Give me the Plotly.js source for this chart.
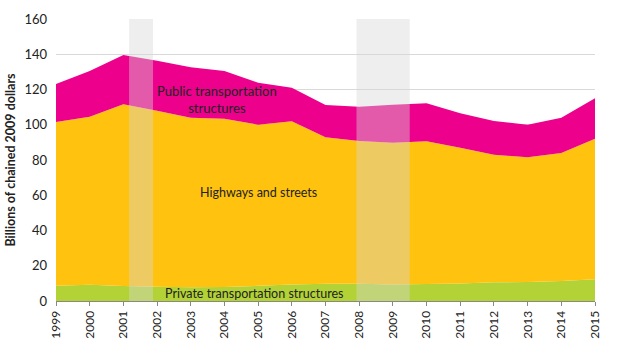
<!DOCTYPE html>
<html>
<head>
<meta charset="utf-8">
<script src="https://cdn.plot.ly/plotly-3.0.1.min.js"></script>
<style>html,body{margin:0;padding:0;background:#fff;}#chart{width:618px;height:352px;}</style>
</head>
<body>
<div id="chart"></div>
<script>
const years = [1999,2000,2001,2002,2003,2004,2005,2006,2007,2008,2009,2010,2011,2012,2013,2014,2015];
const privateStructures = [8.7,9.2,8.5,8.1,7.8,7.9,8.6,9.4,9.8,9.8,9.3,9.6,10.0,10.6,10.8,11.3,12.3];
const highwaysStreets = [92.9,95.4,103.1,99.9,96.2,95.5,91.4,92.6,83.1,81.0,80.5,81.0,77.0,72.4,70.7,72.7,79.8];
const publicStructures = [21.5,25.9,28.0,28.3,28.6,27.1,23.9,19.0,18.3,19.4,21.6,21.6,19.5,19.1,18.5,20.0,22.9];
const recessions = [[2001.17, 2001.88], [2007.92, 2009.5]];
const tickYears = years.map(String);

const FONT = 'Lato, "Open Sans", sans-serif';
const mk = (name, y, color) => ({
  type: 'scatter', mode: 'none', name: name, x: years, y: y,
  stackgroup: 'one', fillcolor: color, line: {width: 0}, hoverinfo: 'skip'
});
const data = [
  mk('Private transportation structures', privateStructures, '#B3D235'),
  mk('Highways and streets', highwaysStreets, '#FFC20E'),
  mk('Public transportation structures', publicStructures, '#EC008C')
];

const shapes = recessions.map(r => ({
  type: 'rect', xref: 'x', yref: 'y', x0: r[0], x1: r[1], y0: 0, y1: 160,
  fillcolor: 'rgba(215,215,215,0.42)', line: {width: 0}, layer: 'above'
}));

const layout = {
  width: 618, height: 352,
  margin: {l: 56, r: 23, t: 19, b: 51},
  paper_bgcolor: '#ffffff', plot_bgcolor: '#ffffff',
  showlegend: false,
  font: {family: FONT, color: '#222', size: 12},
  xaxis: {
    range: [1999, 2015], tickvals: years, ticktext: tickYears,
    tickangle: -90, ticks: 'outside', ticklen: 4, tickcolor: '#888',
    showline: true, linecolor: '#888', linewidth: 1, showgrid: false,
    zeroline: false, tickfont: {size: 12, color: '#222', family: FONT}
  },
  yaxis: {
    range: [0, 160], dtick: 20, showgrid: true, gridcolor: '#D9D9D9', gridwidth: 1,
    zeroline: false, showline: false, ticks: '', ticklen: 0, ticklabelstandoff: 8,
    tickfont: {size: 13, color: '#222', family: FONT},
    title: {text: '<b>Billions of chained 2009 dollars</b>', font: {size: 12.5, color: '#222', family: FONT}, standoff: 6}
  },
  shapes: shapes,
  annotations: [
    {x: 2003.78, y: 114.5, xref: 'x', yref: 'y', text: 'Public transportation<br>structures', showarrow: false, font: {size: 13, color: '#222', family: FONT}},
    {x: 2005.0, y: 61.3, xref: 'x', yref: 'y', text: 'Highways and streets', showarrow: false, font: {size: 12.5, color: '#222', family: FONT}},
    {x: 2004.9, y: 4.0, xref: 'x', yref: 'y', text: 'Private transportation structures', showarrow: false, font: {size: 12.5, color: '#222', family: FONT}}
  ]
};

Plotly.newPlot('chart', data, layout, {displayModeBar: false, staticPlot: true});
</script>
</body>
</html>
